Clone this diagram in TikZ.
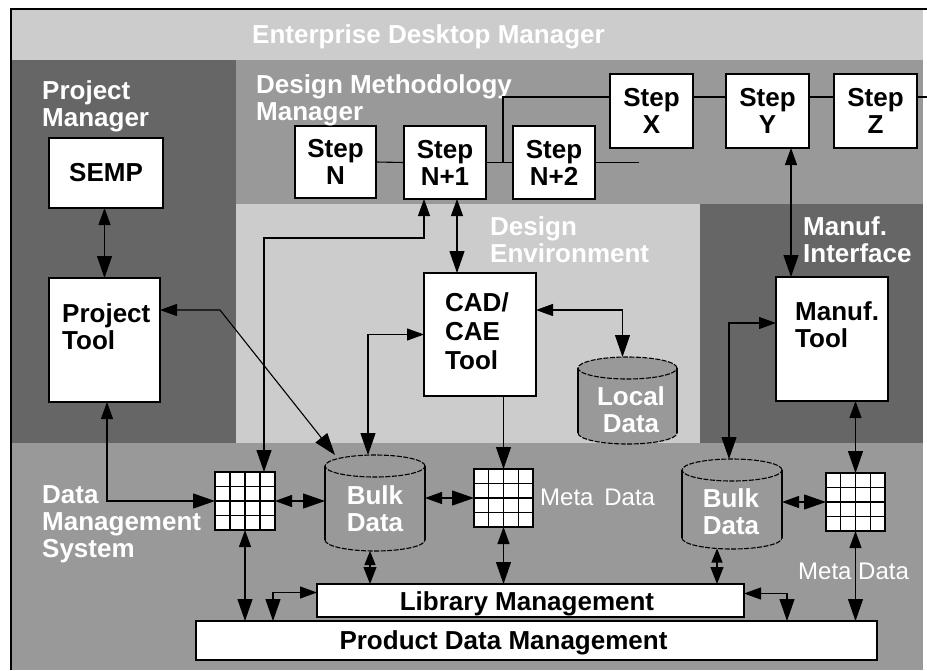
\documentclass[tikz,border=0pt]{standalone}
\usepackage{fontspec}
\setmainfont{Liberation Sans}
\usetikzlibrary{arrows.meta,calc}
\definecolor{dkg}{HTML}{666666}
\definecolor{mdg}{HTML}{999999}
\definecolor{ltg}{HTML}{CCCCCC}
\newcommand\drawcyl[4]{%
  \fill[mdg] (#1-#4,#2) -- (#1-#4,#3)
    arc[start angle=180,end angle=360,x radius=#4pt,y radius=11pt] -- (#1+#4,#2)
    arc[start angle=0,end angle=180,x radius=#4pt,y radius=11pt] -- cycle;
  \draw[line width=1.1pt] (#1-#4,#2) -- (#1-#4,#3) (#1+#4,#2) -- (#1+#4,#3);
  \draw[line width=1.1pt,dash pattern=on 5pt off 1.5pt] (#1,#2) ellipse[x radius=#4pt,y radius=11pt];
  \draw[line width=1.1pt,dash pattern=on 5pt off 1.5pt] (#1-#4,#3) arc[start angle=180,end angle=360,x radius=#4pt,y radius=11pt];
}
\begin{document}
\begin{tikzpicture}[x=1pt,y=-1pt,
  box/.style={draw=black,line width=1.3pt,fill=white,inner sep=0pt,outer sep=0pt,
    font=\bfseries\fontsize{26}{27}\selectfont,align=center},
  hole/.style={inner sep=0pt,outer sep=0pt},
  gridbox/.style={draw=black,line width=1.3pt,fill=white,inner sep=0pt,outer sep=0pt},
  ln/.style={line width=1.1pt},
  twoway/.style={line width=1.1pt,{Triangle[length=17pt,width=12pt]}-{Triangle[length=22pt,width=15pt]}},
  twowayshort/.style={line width=1.1pt,{Triangle[length=14pt,width=11pt]}-{Triangle[length=17pt,width=13pt]}},
  oneway/.style={line width=1.1pt,-{Triangle[length=22pt,width=15pt]}},
  wl/.style={text=white,font=\bfseries\fontsize{26}{27}\selectfont,align=left,inner sep=0pt,anchor=west},
  wr/.style={text=white,font=\fontsize{24}{26}\selectfont,inner sep=0pt,anchor=west},
  bl/.style={text=black,font=\bfseries\fontsize{26}{27}\selectfont,align=left,inner sep=0pt}
]
\useasboundingbox (0,0) rectangle (927,670);
\fill[white] (0,0) rectangle (927,670);
% panels
\fill[mdg] (12,60) rectangle (923,670);
\fill[ltg] (12,10) rectangle (923,60);
\fill[dkg] (12,60) rectangle (236,443);
\fill[ltg] (236,204) rectangle (700,443);
\fill[dkg] (700,204) rectangle (923,443);
\draw[line width=1.5pt] (11,670) -- (11,9) -- (927,9);

% cylinders
\drawcyl{375}{466}{540}{50}
\drawcyl{627.5}{368}{433}{49.5}
\drawcyl{732}{470}{538}{50}
\node[hole,minimum width=100pt,minimum height=96pt] (bulk1) at (375,503) {};
\node[hole,minimum width=99pt,minimum height=87pt] (local) at (627.5,400.5) {};
\node[hole,minimum width=100pt,minimum height=90pt] (bulk2) at (732,504) {};

% boxes
\node[box,minimum width=114pt,minimum height=70pt] (semp) at (106,173) {SEMP};
\node[box,minimum width=111pt,minimum height=124pt] (ptool) at (104.5,340) {};
\node[box,minimum width=81pt,minimum height=72pt] (stepN) at (335.5,162) {Step\\N};
\node[box,minimum width=82pt,minimum height=73pt] (stepN1) at (445,162.5) {Step\\N+1};
\node[box,minimum width=82pt,minimum height=73pt] (stepN2) at (554,162.5) {Step\\N+2};
\node[box,minimum width=83pt,minimum height=74pt] (stepX) at (651.5,111) {Step\\X};
\node[box,minimum width=83pt,minimum height=74pt] (stepY) at (767.5,111) {Step\\Y};
\node[box,minimum width=83pt,minimum height=74pt] (stepZ) at (875.5,111) {Step\\Z};
\node[box,minimum width=112pt,minimum height=123pt] (cad) at (480,334.5) {};
\node[box,minimum width=112pt,minimum height=124pt] (mtool) at (832,339) {};
\node[box,minimum width=427pt,minimum height=33pt] (lib) at (530.5,600.5) {};
\node[box,minimum width=681pt,minimum height=39pt] (pdm) at (536.5,640.5) {};

% grids
\node[gridbox,minimum width=60pt,minimum height=58pt] (grid1) at (245,501) {};
\node[gridbox,minimum width=59pt,minimum height=58pt] (grid2) at (503.5,498) {};
\node[gridbox,minimum width=59pt,minimum height=58pt] (grid3) at (855.5,502) {};
\foreach \g in {grid1,grid2,grid3}{
  \foreach \f in {0.25,0.5,0.75}{
    \draw[line width=1.1pt] ($(\g.north west)!\f!(\g.north east)$) -- ($(\g.south west)!\f!(\g.south east)$);
    \draw[line width=1.1pt] ($(\g.north west)!\f!(\g.south west)$) -- ($(\g.north east)!\f!(\g.south east)$);
  }
}

% box texts
\node[bl,anchor=west] (ptooltxt) at (62,327) {Project\\Tool};
\node[bl,anchor=west,font=\bfseries\fontsize{26}{29}\selectfont] (cadtxt) at (445,331) {CAD/\\CAE\\Tool};
\node[bl,anchor=west] (mtooltxt) at (795,324.5) {Manuf.\\Tool};
\node[bl,anchor=center] (libtxt) at (527,604) {Library Management};
\node[bl,anchor=center] (pdmtxt) at (503.5,643) {Product Data Management};

% white labels
\node[wl,anchor=center] (title) at (428.5,37) {Enterprise Desktop Manager};
\node[wl] (pmlbl) at (42,106) {Project\\Manager};
\node[wl] (dmmlbl) at (256,100) {Design Methodology\\Manager};
\node[wl] (delbl) at (490,240) {Design\\Environment};
\node[wl] (milbl) at (803,240) {Manuf.\\Interface};
\node[wl] (dmslbl) at (42,524) {Data\\Management\\System};
\node[wl,align=center,anchor=center] (b1txt) at (375,508.5) {Bulk\\Data};
\node[wl,align=center,anchor=center] (b2txt) at (731,512) {Bulk\\Data};
\node[wl,align=center,anchor=center] (ldtxt) at (631,410) {Local\\Data};
\node[wr] (md1) at (540,497) {Meta\hspace{0.45em}Data};
\node[wr] (md2) at (798,571) {Meta Data};

% step chain
\draw[ln] (stepN.east) -- (stepN1.west);
\draw[ln] (stepN1.east) -- (stepN2.west);
\coordinate (jn) at ([xshift=17pt]stepN1.east);
\draw[ln] (jn) |- ([yshift=14pt]stepX.west);
\coordinate (n2end) at ([xshift=44pt]stepN2.east);
\draw[ln] (stepN2.east) -- (n2end);
\draw[ln] ([yshift=14pt]stepX.east) -- ([yshift=14pt]stepY.west);
\draw[ln] ([yshift=14pt]stepY.east) -- ([yshift=14pt]stepZ.west);
\coordinate (zend) at ([xshift=14pt,yshift=14pt]stepZ.east);
\draw[ln] ([yshift=14pt]stepZ.east) -- (zend);

% connectors
\draw[twoway] (semp.south -| ptool.north) -- (ptool.north);
\draw[twoway] ([xshift=2.5pt]ptool.south) |- (grid1.west);
\draw[twoway] ([yshift=30pt]ptool.east) -- ++(60,0) -- ([xshift=10pt]bulk1.north west);
\coordinate (n1a) at ([xshift=-21pt]stepN1.south);
\draw[twoway] (n1a) -- ++(0,39) -| ([xshift=19pt]grid1.north);
\coordinate (n1b) at ([xshift=12pt]stepN1.south);
\draw[twoway] (n1b) -- (n1b |- cad.north);
\draw[twoway] (cad.west) -| ([xshift=-7pt]bulk1.north);
\draw[twoway] ([yshift=24.5pt]cad.east) -| ([xshift=-5pt]local.north);
\draw[oneway] (cad.south -| grid2.north) -- (grid2.north);
\draw[twoway] (grid1.east) -- (grid1.east -| bulk1.west);
\draw[twoway] (bulk1.east |- grid2.west) -- (grid2.west);
\draw[twoway] (grid1.south) -- (grid1.south |- pdm.north);
\draw[twoway] ([yshift=8pt]lib.west) -| ([xshift=77pt]pdm.north west);
\coordinate (b1s) at ([xshift=-5pt]bulk1.south);
\draw[twowayshort] (b1s) -- (b1s |- lib.north);
\draw[twoway] (grid2.south) -- (grid2.south |- lib.north);
\coordinate (b2s) at ([xshift=-15pt,yshift=0.5pt]bulk2.south);
\draw[twowayshort] (b2s) -- (b2s |- lib.north);
\draw[twoway] ([yshift=7pt]lib.east) -| ([xshift=-90pt]pdm.north east);
\draw[twoway] (grid3.south) -- (grid3.south |- pdm.north);
\draw[twoway] (grid3.north |- mtool.south) -- (grid3.north);
\draw[twoway] ([yshift=16pt]mtool.west) -| ([xshift=-3pt]bulk2.north);
\draw[twoway] (bulk2.east |- grid3.west) -- (grid3.west);
\coordinate (ym) at ([xshift=23.5pt]stepY.south);
\draw[twoway] (ym) -- (ym |- mtool.north);
\end{tikzpicture}
\end{document}
